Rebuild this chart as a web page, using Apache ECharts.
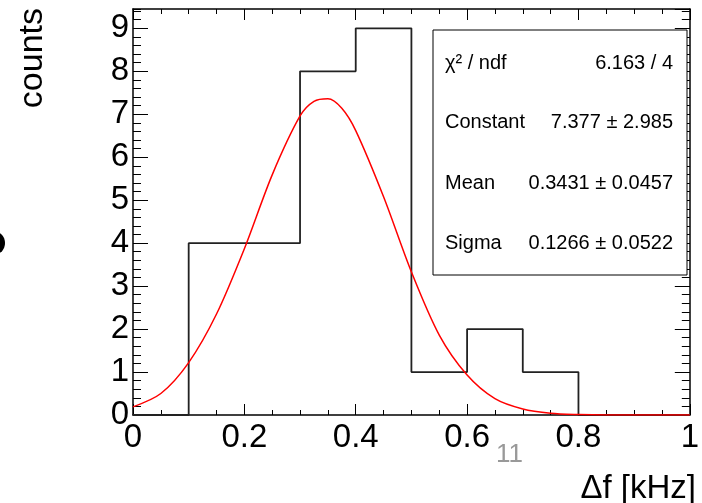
<!DOCTYPE html>
<html>
<head>
<meta charset="utf-8">
<script src="https://cdn.jsdelivr.net/npm/echarts@6/dist/echarts.min.js"></script>
<style>
  html, body { margin: 0; padding: 0; background: #fff; }
  #chart { width: 702px; height: 503px; }
</style>
</head>
<body>
<div id="chart"></div>
<script>
// histogram bins (left edges, width 0.1) and counts
const bin_edges = [0, 0.1, 0.2, 0.3, 0.4, 0.5, 0.6, 0.7, 0.8, 0.9];
const bin_counts = [0, 4, 4, 8, 9, 1, 2, 1, 0, 0];
const x_max = 1;

// red fit curve
const fit_x = [0, 0.05, 0.1, 0.15, 0.2, 0.25, 0.3, 0.325, 0.35, 0.375, 0.4, 0.45, 0.5, 0.55, 0.6, 0.65, 0.7, 0.75, 0.8, 0.85, 0.9, 0.95, 1];
const fit_y = [0.19, 0.5, 1.22, 2.35, 3.87, 5.59, 6.96, 7.3, 7.36, 7.14, 6.62, 5.08, 3.33, 1.86, 0.93, 0.38, 0.14, 0.04, 0.01, 0, 0, 0, 0];

// stats box
const stat_names = ["\u03c7\u00b2 / ndf", "Constant", "Mean", "Sigma"];
const stat_values = ["6.163 / 4", "7.377 \u00b1 2.985", "0.3431 \u00b1 0.0457", "0.1266 \u00b1 0.0522"];

const FONT = "Liberation Sans";
const chart = echarts.init(document.getElementById("chart"));

const hist_data = bin_edges.map((e, i) => [e, bin_counts[i]]);
hist_data.push([x_max, 0]);
const fit_data = fit_x.map((x, i) => [x, fit_y[i]]);

function xAxisDef(pos, interval, tickLen, withLabels) {
  return {
    type: "value", position: pos, min: 0, max: x_max, interval: interval,
    axisLine: { show: withLabels !== null, onZero: false, lineStyle: { color: "#000", width: 1.5 } },
    axisTick: { show: true, inside: true, length: tickLen, lineStyle: { color: "#000", width: 1 } },
    axisLabel: withLabels
      ? { show: true, margin: 6, color: "#000", fontSize: 33, fontFamily: FONT }
      : { show: false },
    splitLine: { show: false },
  };
}
function yAxisDef(pos, interval, tickLen, withLabels) {
  return {
    type: "value", position: pos, min: 0, max: 9.45, interval: interval,
    axisLine: { show: withLabels !== null, onZero: false, lineStyle: { color: "#000", width: 1.5 } },
    axisTick: { show: true, inside: true, length: tickLen, lineStyle: { color: "#000", width: 1 } },
    axisLabel: withLabels
      ? { show: true, margin: 4, color: "#000", fontSize: 33, fontFamily: FONT, showMaxLabel: false }
      : { show: false },
    splitLine: { show: false },
  };
}

const stat_graphics = [];
stat_graphics.push({
  type: "rect", shape: { x: 433, y: 30, width: 254, height: 245 },
  style: { fill: "#fff", stroke: "#000", lineWidth: 1 }, z: 100,
});
const stat_rows = [63, 122, 183, 243];
stat_names.forEach((name, i) => {
  stat_graphics.push({
    type: "text", x: 445, y: stat_rows[i], z: 101,
    style: { text: name, font: `20px "${FONT}"`, fill: "#000", textAlign: "left", textVerticalAlign: "middle" },
  });
  stat_graphics.push({
    type: "text", x: 673, y: stat_rows[i], z: 101,
    style: { text: stat_values[i], font: `20px "${FONT}"`, fill: "#000", textAlign: "right", textVerticalAlign: "middle" },
  });
});

chart.setOption({
  backgroundColor: "#fff",
  animation: false,
  grid: { left: 133, right: 6, top: 9, bottom: 88 },
  xAxis: [
    xAxisDef("bottom", 0.2, 11, true),
    xAxisDef("bottom", 0.05, 5, null),
    xAxisDef("top", 0.2, 11, false),
    xAxisDef("top", 0.05, 5, null),
  ],
  yAxis: [
    yAxisDef("left", 1, 15, true),
    yAxisDef("left", 0.2, 8, null),
    yAxisDef("right", 1, 15, false),
    yAxisDef("right", 0.2, 8, null),
  ],
  graphic: [
    {
      type: "text", x: 16, y: 8, rotation: Math.PI / 2,
      style: { text: "counts", font: `34px "${FONT}"`, fill: "#000", textAlign: "right", textVerticalAlign: "top" },
    },
    {
      type: "text", x: 696, y: 505,
      style: { text: "\u0394f [kHz]", font: `33px "${FONT}"`, fill: "#000", textAlign: "right", textVerticalAlign: "bottom" },
    },
    {
      type: "text", x: 496, y: 455,
      style: { text: "11", font: `26px "${FONT}"`, fill: "#999", textAlign: "left", textVerticalAlign: "middle" },
    },
    { type: "ellipse", shape: { cx: -4, cy: 243, rx: 9, ry: 11 }, style: { fill: "#000" } },
    ...stat_graphics,
  ],
  series: [
    {
      name: "hist", type: "line", step: "end", xAxisIndex: 0, yAxisIndex: 0,
      data: hist_data, symbol: "none",
      lineStyle: { color: "#222", width: 1.8 },
    },
    {
      name: "fit", type: "line", xAxisIndex: 0, yAxisIndex: 0,
      data: fit_data, symbol: "none", smooth: 0.3,
      lineStyle: { color: "#ff0000", width: 1.5 },
    },
  ],
});
</script>
</body>
</html>
